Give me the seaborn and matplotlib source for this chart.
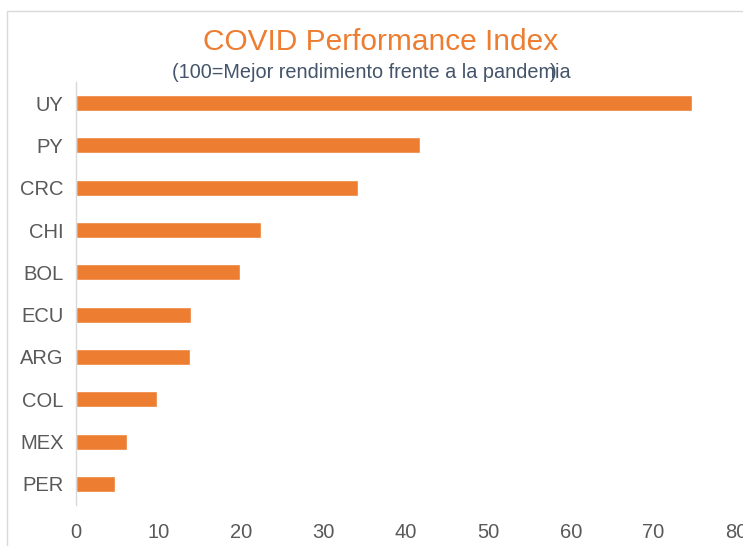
import numpy as np
import pandas as pd
import matplotlib
matplotlib.use("Agg")
import matplotlib.pyplot as plt
import seaborn as sns
from matplotlib.patches import Rectangle

# Data
countries = ["UY", "PY", "CRC", "CHI", "BOL", "ECU", "ARG", "COL", "MEX", "PER"]
index_values = [74.7, 41.7, 34.2, 22.4, 19.9, 13.9, 13.8, 9.8, 6.2, 4.7]
x_ticks = [0, 10, 20, 30, 40, 50, 60, 70, 80]

df = pd.DataFrame({"country": countries, "value": index_values})

sns.set_theme(style="white")
plt.rcParams["font.family"] = ["Liberation Sans", "DejaVu Sans"]

orange = "#ED7D31"
fig = plt.figure(figsize=(7.43, 5.46), dpi=100)
ax = fig.add_axes([76 / 743, 1 - 505 / 546, 660 / 743, 423 / 546])

sns.barplot(data=df, x="value", y="country", color=orange, saturation=1,
            width=0.38, orient="h", ax=ax)

ax.set_xlim(0, 80)
ax.set_ylim(9.5, -0.5)
ax.set_xticks(x_ticks)
ax.set_xlabel("")
ax.set_ylabel("")
ax.tick_params(axis="x", length=0, pad=13, labelsize=14.5, labelcolor="#595959")
ax.tick_params(axis="y", length=0, pad=9, labelsize=14.5, labelcolor="#595959")
for s in ["top", "right", "bottom"]:
    ax.spines[s].set_visible(False)
ax.spines["left"].set_color("#D9D9D9")
ax.spines["left"].set_linewidth(1)

# outer chart border (cut at right/bottom like the screenshot)
fig.patches.append(Rectangle((7 / 743, -0.1), 1.2, 1 - 11 / 546 + 0.1,
                             transform=fig.transFigure, fill=False,
                             edgecolor="#D9D9D9", linewidth=1))

fig.text(381 / 743, 1 - 42 / 546, "COVID Performance Index", color=orange,
         fontsize=21.5, ha="center", va="center")
fig.text(172 / 743, 1 - 73 / 546, "(100=Mejor rendimiento frente a la pandemia",
         color="#44546A", fontsize=14.3, ha="left", va="center")
fig.text(553 / 743, 1 - 73 / 546, ")", color="#44546A", fontsize=14.3,
         ha="center", va="center")

fig.savefig("out.png", dpi=100)
